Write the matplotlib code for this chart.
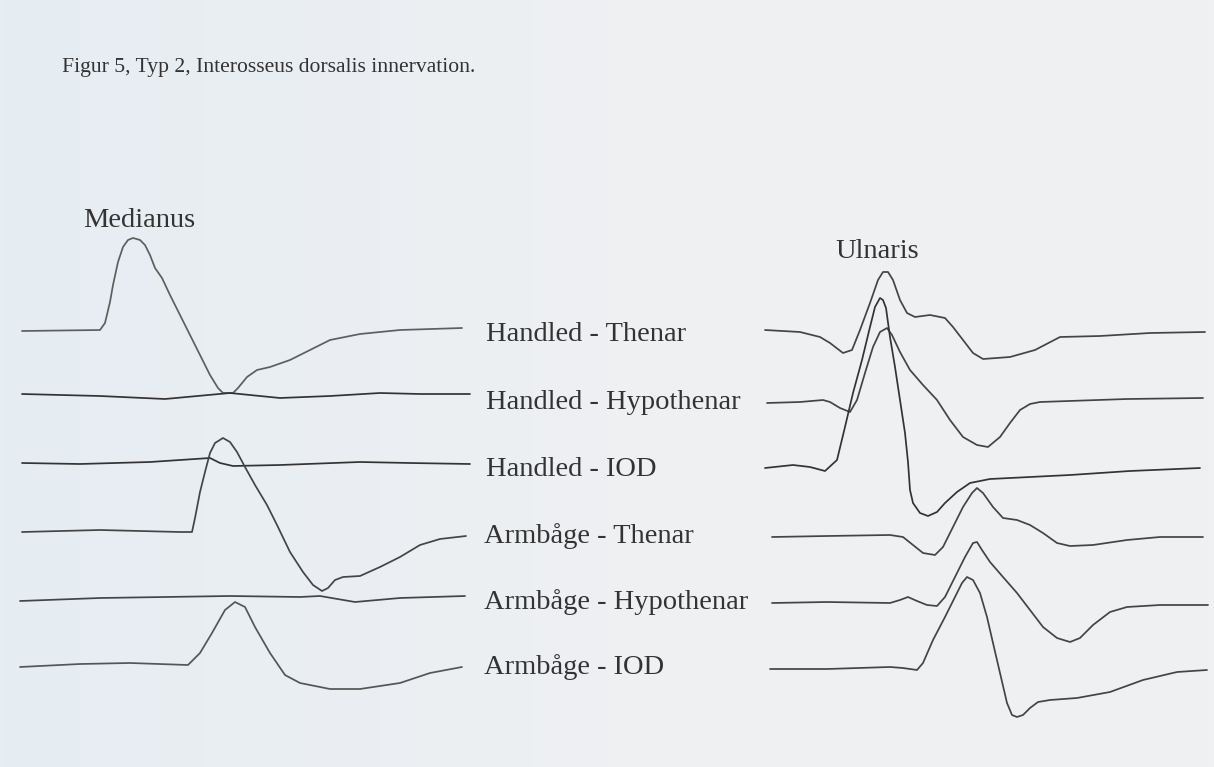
import numpy as np
import matplotlib.pyplot as plt
import matplotlib.colors as mcolors

# Traces, in picture pixels (x to the right, y downwards)
# Medianus (left column)
med_w_thenar_x = [22, 100, 105, 110, 113, 118, 123, 128, 133, 140, 145, 150, 155, 162, 170, 180,
                  190, 200, 210, 218, 223, 233, 238, 247, 257, 270, 290, 310, 330, 360, 400, 462]
med_w_thenar_y = [331, 330, 323, 302, 285, 262, 247, 240, 238, 240, 245, 255, 268, 278, 295, 315,
                  335, 355, 375, 388, 393, 393, 388, 377, 370, 367, 360, 350, 340, 334, 330, 328]

med_w_hypo_x = [22, 100, 165, 230, 280, 330, 380, 420, 470]
med_w_hypo_y = [394, 396, 399, 393, 398, 396, 393, 394, 394]

med_w_iod_x = [22, 80, 150, 210, 220, 233, 280, 360, 410, 470]
med_w_iod_y = [463, 464, 462, 458, 463, 466, 465, 462, 463, 464]

med_e_thenar_x = [22, 100, 180, 192, 195, 200, 205, 210, 215, 223, 230, 237, 245, 255, 267, 277,
                  290, 303, 313, 322, 328, 335, 343, 360, 380, 400, 420, 440, 466]
med_e_thenar_y = [532, 530, 532, 532, 518, 492, 472, 453, 443, 438, 442, 452, 467, 485, 505, 525,
                  552, 572, 585, 591, 588, 580, 577, 576, 567, 557, 545, 539, 536]

med_e_hypo_x = [20, 100, 230, 300, 320, 355, 400, 465]
med_e_hypo_y = [601, 598, 596, 597, 596, 602, 598, 596]

med_e_iod_x = [20, 80, 130, 188, 200, 212, 225, 235, 245, 255, 270, 285, 300, 330, 360, 400, 430, 462]
med_e_iod_y = [667, 664, 663, 665, 653, 633, 610, 602, 607, 627, 653, 675, 683, 689, 689, 683, 673, 667]

# Ulnaris (right column)
uln_w_thenar_x = [765, 800, 820, 830, 843, 852, 860, 870, 878, 883, 888, 893, 900, 907, 915, 930,
                  945, 953, 963, 973, 983, 1010, 1035, 1060, 1100, 1150, 1205]
uln_w_thenar_y = [330, 332, 337, 343, 353, 350, 330, 303, 280, 272, 272, 280, 300, 313, 317, 315,
                  318, 327, 340, 353, 359, 357, 350, 337, 336, 333, 332]

uln_w_hypo_x = [767, 800, 823, 830, 840, 850, 857, 865, 873, 880, 887, 892, 900, 910, 923, 937,
                950, 963, 977, 988, 1000, 1010, 1020, 1030, 1040, 1127, 1203]
uln_w_hypo_y = [403, 402, 400, 402, 408, 412, 400, 373, 347, 332, 328, 335, 352, 370, 385, 400,
                420, 437, 445, 447, 437, 423, 410, 404, 402, 399, 398]

uln_w_iod_x = [765, 793, 810, 825, 837, 845, 853, 862, 870, 875, 880, 883, 886, 890, 895, 900,
               905, 908, 910, 913, 920, 928, 937, 945, 957, 970, 990, 1070, 1130, 1200]
uln_w_iod_y = [468, 465, 467, 471, 460, 427, 393, 360, 327, 307, 298, 300, 308, 337, 367, 400,
               433, 462, 490, 503, 513, 516, 512, 503, 492, 483, 479, 475, 471, 468]

uln_e_thenar_x = [772, 827, 890, 903, 913, 923, 935, 943, 953, 963, 972, 977, 983, 993, 1003, 1017,
                  1030, 1043, 1057, 1070, 1093, 1127, 1160, 1203]
uln_e_thenar_y = [537, 536, 535, 537, 545, 553, 555, 547, 527, 507, 493, 488, 493, 507, 518, 520,
                  525, 533, 543, 546, 545, 540, 537, 537]

uln_e_hypo_x = [772, 827, 890, 900, 908, 917, 927, 937, 945, 955, 965, 973, 977, 982, 990, 1003,
                1017, 1030, 1043, 1057, 1070, 1080, 1093, 1110, 1127, 1160, 1208]
uln_e_hypo_y = [603, 602, 603, 600, 597, 601, 605, 606, 597, 577, 557, 543, 542, 550, 562, 577,
                593, 610, 627, 638, 642, 638, 625, 612, 607, 605, 605]

uln_e_iod_x = [770, 827, 890, 903, 917, 923, 933, 945, 955, 962, 967, 973, 980, 987, 993, 1000,
               1007, 1012, 1017, 1023, 1030, 1038, 1050, 1077, 1110, 1143, 1177, 1207]
uln_e_iod_y = [669, 669, 667, 668, 670, 663, 640, 617, 597, 583, 577, 580, 593, 617, 643, 673,
               703, 715, 717, 715, 708, 702, 700, 698, 692, 680, 672, 670]

row_labels = ["Handled - Thenar", "Handled - Hypothenar", "Handled - IOD",
              "Armbåge - Thenar", "Armbåge - Hypothenar", "Armbåge - IOD"]
label_x = [486, 486, 486, 484, 484, 484]
label_y = [341, 409, 476, 543, 609, 674]

title = "Figur 5, Typ 2, Interosseus dorsalis innervation."

W, H = 1214, 767
fig = plt.figure(figsize=(W / 100, H / 100), dpi=100)
fig.patch.set_facecolor("#eef0f2")
ax = fig.add_axes([0, 0, 1, 1])
ax.set_xlim(0, W)
ax.set_ylim(H, 0)
ax.axis("off")

# faint bluish tint of the scan towards the left edge
paper = mcolors.LinearSegmentedColormap.from_list("paper", ["#e6edf3", "#eef0f2", "#eff1f3"])
ax.imshow(np.linspace(0, 1, 200)[None, :], extent=[0, W, H, 0], cmap=paper,
          aspect="auto", zorder=0)

traces = [
    (med_w_thenar_x, med_w_thenar_y, "#5e5e5e"),
    (med_w_hypo_x, med_w_hypo_y, "#333333"),
    (med_w_iod_x, med_w_iod_y, "#333333"),
    (med_e_thenar_x, med_e_thenar_y, "#444444"),
    (med_e_hypo_x, med_e_hypo_y, "#444444"),
    (med_e_iod_x, med_e_iod_y, "#555555"),
    (uln_w_thenar_x, uln_w_thenar_y, "#444444"),
    (uln_w_hypo_x, uln_w_hypo_y, "#444444"),
    (uln_w_iod_x, uln_w_iod_y, "#333333"),
    (uln_e_thenar_x, uln_e_thenar_y, "#444444"),
    (uln_e_hypo_x, uln_e_hypo_y, "#444444"),
    (uln_e_iod_x, uln_e_iod_y, "#444444"),
]
for xs, ys, c in traces:
    ax.plot(xs, ys, color=c, lw=1.25, solid_joinstyle="round", solid_capstyle="round", zorder=2)

serif = ["Liberation Serif", "DejaVu Serif"]
ax.text(62, 72, title, family=serif, fontsize=15.6, color="#333333", va="baseline")
ax.text(83, 227, "Medianus", family=serif, fontsize=20.5, color="#333333", va="baseline")
ax.text(835, 258, "Ulnaris", family=serif, fontsize=20.5, color="#333333", va="baseline")
for lab, lx, ly in zip(row_labels, label_x, label_y):
    ax.text(lx, ly, lab, family=serif, fontsize=20.5, color="#333333", va="baseline")

fig.savefig("out.png", dpi=100, facecolor=fig.get_facecolor())
